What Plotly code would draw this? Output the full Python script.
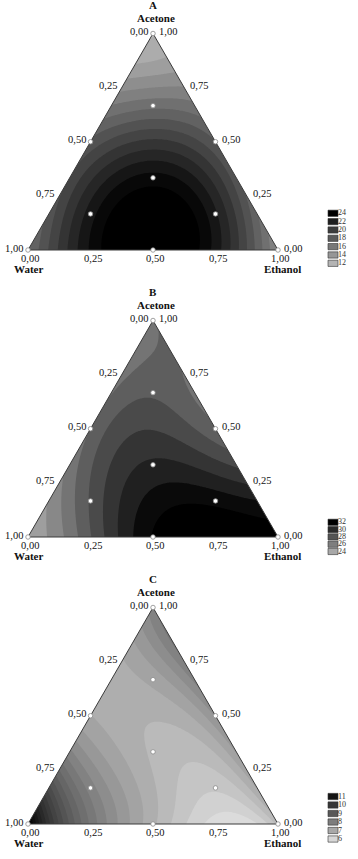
import numpy as np
import plotly.graph_objects as go

# ------------------------------------------------------------------ data
# compositions (Water, Ethanol, Acetone fractions) where the response was read
pts_water   = [1, 0.75, 0.5, 0.25, 0, 0.75, 0.5, 0.25, 0, 0.5, 0.25, 0, 0.25, 0, 0, 1/3, 2/3, 1/6, 1/6]
pts_ethanol = [0, 0.25, 0.5, 0.75, 1, 0, 0.25, 0.5, 0.75, 0, 0.25, 0.5, 0, 0.25, 0, 1/3, 1/6, 2/3, 1/6]
pts_acetone = [0, 0, 0, 0, 0, 0.25, 0.25, 0.25, 0.25, 0.5, 0.5, 0.5, 0.75, 0.75, 1, 1/3, 1/6, 1/6, 2/3]

# response values at those compositions
resp_A = [17.0, 23.0, 26.0, 22.4, 15.0, 18.7, 24.1, 24.0, 17.7, 18.5, 20.0, 18.3, 14.4, 14.8, 12.0, 22.7, 22.7, 22.4, 17.3]
resp_B = [24.3, 28.0, 32.0, 33.5, 32.5, 25.8, 30.0, 31.3, 30.0, 27.0, 29.0, 27.2, 26.7, 27.0, 26.7, 30.0, 28.0, 31.4, 27.8]
resp_C = [11.7, 8.2, 6.8, 5.9, 6.6, 8.5, 7.1, 6.6, 7.2, 7.0, 6.9, 7.5, 7.0, 8.0, 7.9, 6.6, 7.9, 6.2, 7.0]

# simplex-centroid design points (markers)
design_water   = [1, 0, 0, 0.5, 0.5, 0, 1/3, 2/3, 1/6, 1/6]
design_ethanol = [0, 1, 0, 0.5, 0, 0.5, 1/3, 1/6, 2/3, 1/6]
design_acetone = [0, 0, 1, 0, 0.5, 0.5, 1/3, 1/6, 1/6, 2/3]

tick_values = [0, 0.25, 0.5, 0.75, 1]
tick_labels = ["0,00", "0,25", "0,50", "0,75", "1,00"]

panel_titles = ["A", "B", "C"]
legend_A = [24, 22, 20, 18, 16, 14, 12]
legend_B = [32, 30, 28, 26, 24]
legend_C = [11, 10, 9, 8, 7, 6]

# ------------------------------------------------------------------ styling / geometry
W_PX, H_PX = 358, 859
UNIT = 250.0                      # px per unit composition (triangle side)
X0_PX = 28.0                      # px of the Water vertex
BOTTOM_PX = [250.0, 537.0, 824.0]  # px of the base of each triangle
LEG_X_PX = 328.0
H = np.sqrt(3) / 2
OFFS = [(BOTTOM_PX[0] - b) / UNIT for b in BOTTOM_PX]

panels = [
    dict(resp=resp_A, start=12, end=24, size=1,
         gray=[(11, 195), (24, 0)], legend=legend_A,
         leg_ref=(24, 213.3), leg_ppu=4.167, leg_w=1.5),
    dict(resp=resp_B, start=24, end=32, size=1,
         gray=[(22, 210), (32, 0)], legend=legend_B,
         leg_ref=(32, 522.3), leg_ppu=3.65, leg_w=1.7),
    dict(resp=resp_C, start=6, end=11.5, size=0.25,
         gray=[(5.5, 232), (6, 215), (7, 168), (8, 125), (9, 88), (10, 54), (11, 20), (11.5, 3), (12, 0)],
         legend=legend_C, leg_ref=(11, 796.5), leg_ppu=8.5, leg_w=0.74),
]

SERIF = "Liberation Serif"
font_num = dict(family=SERIF, size=10.5, color="#111")
font_bold = dict(family=SERIF, size=11, color="#111")


def to_xy(w, e, a, k):
    e = np.asarray(e, dtype=float)
    a = np.asarray(a, dtype=float)
    return e + a / 2, a * H + OFFS[k]


def fit_surface(vals, deg=4):
    E = np.array(pts_ethanol, dtype=float)
    A = np.array(pts_acetone, dtype=float)
    terms = [(i, j) for i in range(deg + 1) for j in range(deg + 1 - i)]
    M = np.column_stack([E ** i * A ** j for i, j in terms])
    coef, *_ = np.linalg.lstsq(M, np.array(vals, dtype=float), rcond=None)
    return lambda e, a: sum(c * e ** i * a ** j for c, (i, j) in zip(coef, terms))


def gray_of(v, stops):
    vs, gs = zip(*stops)
    g = int(round(float(np.interp(v, vs, gs))))
    return f"rgb({g},{g},{g})"


def band_colorscale(stops, start, end, size):
    nc = int(round((end - start) / size)) + 1
    out = []
    for k in range(nc + 1):
        v = start - size / 2 + k * size
        out.append([k / nc, gray_of(v, stops)])
    return out


fig = go.Figure()
ann = []

gx = np.linspace(0, 1, 161)
gy = np.linspace(0, H, 141)
GX, GY = np.meshgrid(gx, gy)
GA = GY / H
GE = GX - GA / 2

for k, p in enumerate(panels):
    f = fit_surface(p["resp"])
    Z = f(GE, GA)
    fig.add_trace(go.Contour(
        x=gx, y=gy + OFFS[k], z=Z,
        autocontour=False,
        contours=dict(start=p["start"], end=p["end"], size=p["size"],
                      coloring="fill", showlines=False),
        line=dict(width=0),
        colorscale=band_colorscale(p["gray"], p["start"], p["end"], p["size"]),
        showscale=False, hoverinfo="skip",
    ))
    # white masks outside the triangle
    eps = 0.04
    for side in (0, 1):
        sx = [side, 0.5, 0.5, side + (eps if side else -eps), side + (eps if side else -eps), side]
        sy = [0, H, H + eps, H + eps, -0.002, -0.002]
        fig.add_trace(go.Scatter(x=sx, y=np.array(sy) + OFFS[k], mode="lines",
                                 fill="toself", fillcolor="white",
                                 line=dict(width=0, color="white"),
                                 hoverinfo="skip"))
    # triangle outline
    vw = design_water[:3] + design_water[:1]
    ve = design_ethanol[:3] + design_ethanol[:1]
    va = design_acetone[:3] + design_acetone[:1]
    tx, ty = to_xy(vw, ve, va, k)
    fig.add_trace(go.Scatter(x=tx, y=ty, mode="lines",
                             line=dict(color="#3a3a3a", width=1), hoverinfo="skip"))
    # design points
    dx, dy = to_xy(design_water, design_ethanol, design_acetone, k)
    fig.add_trace(go.Scatter(x=dx, y=dy, mode="markers", cliponaxis=False,
                             marker=dict(size=4.5, color="white",
                                         line=dict(color="#8a8a8a", width=0.8)),
                             hoverinfo="skip"))
    # tick labels
    for t, lab in zip(tick_values, tick_labels):
        x, y = to_xy(t, 0, 1 - t, k)        # left edge : Water
        ann.append(dict(x=float(x), y=float(y), text=lab, xanchor="right", yanchor="middle",
                        xshift=-3, yshift=2, font=font_num))
        x, y = to_xy(0, 1 - t, t, k)        # right edge : Acetone
        ann.append(dict(x=float(x), y=float(y), text=lab, xanchor="left", yanchor="middle",
                        xshift=4, yshift=2, font=font_num))
        x, y = to_xy(1 - t, t, 0, k)        # base : Ethanol
        ann.append(dict(x=float(x), y=float(y), text=lab, xanchor="center", yanchor="middle",
                        xshift=2, yshift=-8.5, font=font_num))
    x, y = to_xy(0, 0, 1, k)
    ann.append(dict(x=float(x), y=float(y), text="<b>Acetone</b>", xanchor="center",
                    yanchor="middle", xshift=3, yshift=15.3, font=font_bold))
    ann.append(dict(x=float(x), y=float(y), text=f"<b>{panel_titles[k]}</b>", xanchor="center",
                    yanchor="middle", xshift=0, yshift=28, font=font_bold))
    x, y = to_xy(1, 0, 0, k)
    ann.append(dict(x=float(x), y=float(y), text="<b>Water</b>", xanchor="center",
                    yanchor="middle", xshift=0, yshift=-18.5, font=font_bold))
    x, y = to_xy(0, 1, 0, k)
    ann.append(dict(x=float(x), y=float(y), text="<b>Ethanol</b>", xanchor="center",
                    yanchor="middle", xshift=4, yshift=-18.5, font=font_bold))

    # legend (own axes)
    ax = k + 2
    levels = p["legend"]
    cols = [gray_of(v, p["gray"]) for v in levels]
    fig.add_trace(go.Bar(x=[1] * len(levels), y=levels, base=0, orientation="h",
                         width=p["leg_w"],
                         marker=dict(color=cols, line=dict(color="#333", width=0.6)),
                         xaxis=f"x{ax}", yaxis=f"y{ax}", hoverinfo="skip"))
    fig.add_trace(go.Scatter(x=[1] * len(levels), y=levels, mode="text",
                             text=[str(v) for v in levels], textposition="middle right",
                             textfont=dict(family=SERIF, size=8, color="#333"),
                             cliponaxis=False,
                             xaxis=f"x{ax}", yaxis=f"y{ax}", hoverinfo="skip"))

for a in ann:
    a.update(xref="x", yref="y", showarrow=False)

hidden = dict(visible=False, fixedrange=True)
layout = dict(
    width=W_PX, height=H_PX, margin=dict(l=0, r=0, t=0, b=0, pad=0),
    paper_bgcolor="white", plot_bgcolor="rgba(0,0,0,0)", showlegend=False,
    hovermode=False,
    xaxis=dict(domain=[0, 1], range=[-X0_PX / UNIT, (W_PX - X0_PX) / UNIT], **hidden),
    yaxis=dict(domain=[0, 1], range=[(BOTTOM_PX[0] - H_PX) / UNIT, BOTTOM_PX[0] / UNIT], **hidden),
    annotations=ann,
)
# legend axes: x in box units (1 unit = 10 px)
for k, p in enumerate(panels):
    ax = k + 2
    vref, pxref = p["leg_ref"]
    ppu = p["leg_ppu"]
    x_lo = -LEG_X_PX / 10
    layout[f"xaxis{ax}"] = dict(domain=[0, 1], range=[x_lo, x_lo + W_PX / 10], anchor=f"y{ax}", **hidden)
    layout[f"yaxis{ax}"] = dict(domain=[0, 1], range=[vref - (H_PX - pxref) / ppu, vref + pxref / ppu],
                                anchor=f"x{ax}", **hidden)
fig.update_layout(**layout)
# the page's default 8px body margin would shift the figure; remove it
fig.write_html("out.html", config={"displayModeBar": False},
               post_script="document.body.style.margin='0px';")
